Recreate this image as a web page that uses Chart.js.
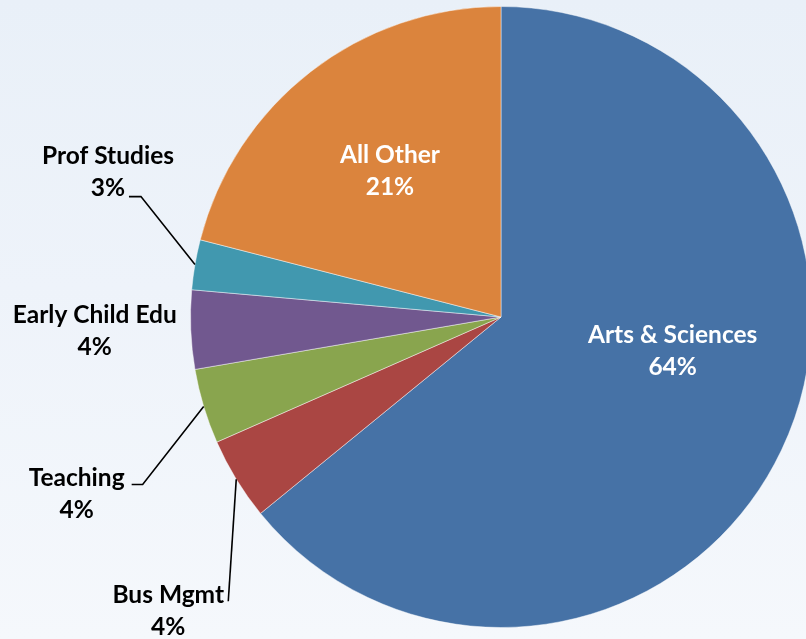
<!DOCTYPE html>
<html lang="en">
<head>
  <meta charset="UTF-8">
  <title>Enrollment by school</title>
  <script src="https://cdn.jsdelivr.net/npm/chart.js@4.4.0"></script>
  <style>
    html, body {
      margin: 0;
      padding: 0;
      width: 806px;
      height: 639px;
      overflow: hidden;
      background: linear-gradient(180deg, #e9f0f8 0%, #eef3fa 45%, #f5f8fc 100%);
    }
    #wrap {
      position: relative;
      width: 820px;
      height: 639px;
    }
  </style>
</head>
<body>
  <div id="wrap"><canvas id="pie"></canvas></div>
  <script>
    // data
    const categories = ['Arts & Sciences', 'Bus Mgmt', 'Teaching', 'Early Child Edu', 'Prof Studies', 'All Other'];
    const shares = [64.1, 4.3, 3.9, 4.1, 2.6, 21.0];
    const sliceColors = ['#4672a6', '#aa4643', '#89a54e', '#71588f', '#4198af', '#db843d'];

    // label placement: inside labels use polar position (deg clockwise from top, fraction of radius),
    // outside ones use pixel offsets from the slice's outer mid point
    const labelPlacement = [
      { inside: true, angle: 100.9, r: 0.563 },
      { line: [[-8, 122]], text: [-68, 115.5] },
      { line: [[-61, 78], [-72, 78]], text: [-127, 71] },
      { line: [], text: [-96, -15.5] },
      { line: [[-54, -68], [-66, -68]], text: [-87, -109] },
      { inside: true, angle: 322.9, r: 0.593 }
    ];

    const FONT_SIZE = 24.5;
    const LINE_GAP = 32;

    const labelPlugin = {
      id: 'sliceLabels',
      afterDatasetsDraw(chart) {
        const c = chart.ctx;
        const arcs = chart.getDatasetMeta(0).data;
        c.save();
        c.font = 'bold ' + FONT_SIZE + 'px Lato';
        c.textAlign = 'center';
        c.textBaseline = 'alphabetic';
        const capShift = FONT_SIZE * 0.35;
        arcs.forEach((arc, i) => {
          const p = labelPlacement[i];
          const cx = arc.x, cy = arc.y, R = arc.outerRadius;
          const pct = Math.round(shares[i]) + '%';
          let tx, ty;
          if (p.inside) {
            const a = p.angle * Math.PI / 180;
            tx = cx + Math.sin(a) * R * p.r;
            ty = cy - Math.cos(a) * R * p.r - LINE_GAP / 2;
            c.fillStyle = '#ffffff';
          } else {
            const mid = (arc.startAngle + arc.endAngle) / 2;
            const ex = cx + Math.cos(mid) * R;
            const ey = cy + Math.sin(mid) * R;
            if (p.line.length) {
              c.strokeStyle = '#000000';
              c.lineWidth = 1.6;
              c.beginPath();
              c.moveTo(ex, ey);
              p.line.forEach(pt => c.lineTo(ex + pt[0], ey + pt[1]));
              c.stroke();
            }
            tx = ex + p.text[0];
            ty = ey + p.text[1];
            c.fillStyle = '#000000';
          }
          c.fillText(categories[i], tx, ty + capShift);
          c.fillText(pct, tx, ty + LINE_GAP + capShift);
        });
        c.restore();
      }
    };

    new Chart(document.getElementById('pie'), {
      type: 'pie',
      data: {
        labels: categories,
        datasets: [{
          data: shares,
          backgroundColor: sliceColors,
          borderColor: 'rgba(255,255,255,0.45)',
          borderWidth: 1
        }]
      },
      options: {
        responsive: true,
        maintainAspectRatio: false,
        animation: false,
        layout: {
          padding: { left: 190, right: 8, top: 6, bottom: 11 }
        },
        plugins: {
          legend: { display: false },
          tooltip: { enabled: false }
        }
      },
      plugins: [labelPlugin]
    });
  </script>
</body>
</html>
